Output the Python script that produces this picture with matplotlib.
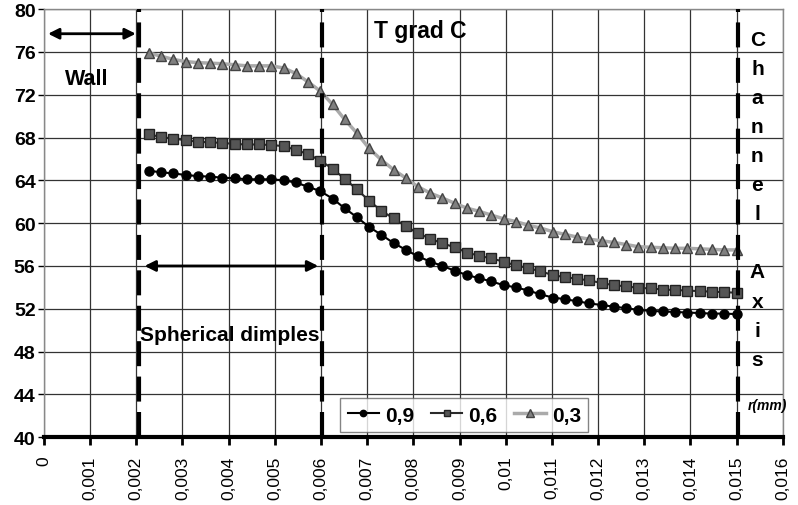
import matplotlib
matplotlib.use("Agg")
import matplotlib.pyplot as plt

plt.rcParams['font.family'] = ['Liberation Sans', 'DejaVu Sans']

# radial positions (m) of the computed points
r = [0.00227, 0.00254, 0.0028, 0.00307, 0.00333, 0.0036, 0.00386, 0.00413,
     0.00439, 0.00466, 0.00492, 0.00519, 0.00545, 0.00572, 0.00598, 0.00625,
     0.00651, 0.00678, 0.00704, 0.00731, 0.00757, 0.00784, 0.0081, 0.00837,
     0.00863, 0.0089, 0.00916, 0.00943, 0.00969, 0.00996, 0.01022, 0.01049,
     0.01075, 0.01102, 0.01128, 0.01155, 0.01181, 0.01208, 0.01234, 0.01261,
     0.01287, 0.01314, 0.0134, 0.01367, 0.01393, 0.0142, 0.01446, 0.01473, 0.015]

t09 = [64.9, 64.75, 64.65, 64.5, 64.4, 64.35, 64.25, 64.2, 64.1, 64.1, 64.1, 64.0,
       63.8, 63.4, 63.0, 62.3, 61.4, 60.55, 59.65, 58.9, 58.15, 57.5, 56.9, 56.4,
       56.0, 55.55, 55.15, 54.85, 54.55, 54.2, 54.0, 53.7, 53.35, 53.05, 52.9, 52.7,
       52.5, 52.35, 52.2, 52.05, 51.9, 51.8, 51.75, 51.7, 51.65, 51.6, 51.55, 51.55, 51.5]
t06 = [68.3, 68.05, 67.9, 67.75, 67.6, 67.55, 67.5, 67.4, 67.35, 67.35, 67.3, 67.2,
       66.85, 66.45, 65.85, 65.1, 64.15, 63.15, 62.1, 61.15, 60.45, 59.7, 59.05, 58.55,
       58.1, 57.75, 57.25, 56.95, 56.7, 56.4, 56.05, 55.8, 55.5, 55.15, 54.95, 54.8,
       54.65, 54.4, 54.2, 54.1, 53.95, 53.9, 53.8, 53.75, 53.7, 53.65, 53.6, 53.55, 53.5]
t03 = [75.9, 75.6, 75.3, 75.1, 75.0, 74.95, 74.9, 74.8, 74.7, 74.7, 74.7, 74.5,
       74.0, 73.2, 72.35, 71.1, 69.7, 68.4, 67.0, 65.9, 65.0, 64.2, 63.4, 62.8,
       62.35, 61.85, 61.4, 61.1, 60.75, 60.4, 60.15, 59.8, 59.55, 59.2, 58.95, 58.7,
       58.5, 58.35, 58.2, 58.0, 57.8, 57.75, 57.7, 57.65, 57.65, 57.6, 57.55, 57.5, 57.5]

x_ticks = [i / 1000 for i in range(17)]
x_labels = ['0'] + ['0,' + ('%.3f' % v)[2:].rstrip('0') for v in x_ticks[1:]]
y_ticks = list(range(40, 81, 4))
boundaries = [0.00205, 0.00603, 0.01502]
axis_letters = ['C', 'h', 'a', 'n', 'n', 'e', 'l', '', 'A', 'x', 'i', 's']

fig = plt.figure(figsize=(7.98, 5.06), dpi=100)
ax = fig.add_axes([0.055, 0.134, 0.926, 0.846])

ax.plot(r, t09, color='black', lw=1.5, marker='o', ms=6.5, mfc='black', mec='black', label='0,9')
ax.plot(r, t06, color='#2a2a2a', lw=1.5, marker='s', ms=6.5, mfc='#555555', mec='#222222', label='0,6')
ax.plot(r, t03, color='#aaaaaa', lw=2.5, marker='^', ms=7.5, mfc='#808080', mec='#444444', label='0,3')

for b in boundaries:
    ax.axvline(b, color='black', lw=3, ls=(0, (6, 2.5)), zorder=4)

ax.set_xlim(0, 0.016)
ax.set_ylim(40, 80)
ax.set_xticks(x_ticks)
ax.set_xticklabels(x_labels, rotation=90, fontsize=12.5)
ax.set_yticks(y_ticks)
ax.set_yticklabels([str(v) for v in y_ticks], fontsize=14, fontweight='bold')
ax.grid(True, color='#333333', lw=0.9)
ax.tick_params(axis='x', direction='out', length=6, width=2, pad=7)
ax.tick_params(axis='y', direction='out', length=4, width=1, pad=2)
ax.spines['bottom'].set_linewidth(3)
for s in ['left', 'top', 'right']:
    ax.spines[s].set_color('#888888')
    ax.spines[s].set_linewidth(1)

# annotations
ax.annotate('', xy=(0.00003, 77.7), xytext=(0.00205, 77.7),
            arrowprops=dict(arrowstyle='<|-|>', color='black', lw=2, mutation_scale=16))
ax.text(0.00045, 73.5, 'Wall', fontsize=15.5, fontweight='bold', va='center')
ax.annotate('', xy=(0.00212, 56.0), xytext=(0.006, 56.0),
            arrowprops=dict(arrowstyle='<|-|>', color='black', lw=2, mutation_scale=16))
ax.text(0.00208, 49.6, 'Spherical dimples', fontsize=15, fontweight='bold', va='center')
ax.text(0.00715, 78.0, 'T grad C', fontsize=16.5, fontweight='bold', va='center')
for i, ch in enumerate(axis_letters):
    ax.text(0.01545, 77.2 - i * 2.72, ch, fontsize=15, fontweight='bold', ha='center', va='center')
ax.text(0.01525, 43.0, 'r(mm)', fontsize=10, fontweight='bold', style='italic', va='center')

leg = ax.legend(loc='lower center', bbox_to_anchor=(0.569, 0.012), ncol=3, frameon=True,
                fancybox=False, edgecolor='#666666', prop={'weight': 'bold', 'size': 15},
                handlelength=1.5, handletextpad=0.3, columnspacing=0.8, markerscale=0.7,
                borderaxespad=0, borderpad=0.35)
leg.get_frame().set_linewidth(1)

fig.savefig('out.png', dpi=100)
